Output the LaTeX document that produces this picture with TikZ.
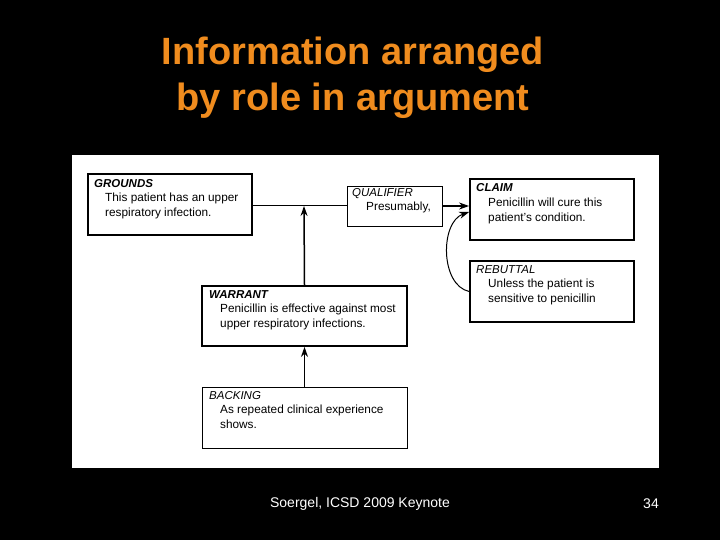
\documentclass[tikz,border=0pt]{standalone}
\usepackage{fontspec}
\setmainfont{Liberation Sans}
\usetikzlibrary{arrows.meta}
\definecolor{ttl}{RGB}{240,140,30}
\begin{document}
\begin{tikzpicture}[x=1pt,y=-1pt,
  box/.style={draw,line width=1.8pt},
  tbox/.style={draw,line width=1pt},
  lbl/.style={anchor=north west,font=\fontsize{11.5}{13}\selectfont\itshape,inner sep=0pt},
  txt/.style={anchor=north west,font=\fontsize{11.8}{15}\selectfont,align=left,inner sep=0pt},
  arr/.style={line width=1.5pt,-{Stealth[length=10pt,width=7pt]}}]
\fill[black] (0,0) rectangle (720,540);
\useasboundingbox (0,0) rectangle (720,540);
\fill[white] (72,155) rectangle (659,468);
\node[text=ttl,font=\fontsize{38}{46}\selectfont\bfseries,align=center] (title) at (353,78) {Information arranged\\by role in argument};
\node[text=white,font=\fontsize{14}{16}\selectfont] (foot) at (360,504) {Soergel, ICSD 2009 Keynote};
\node[text=white,font=\fontsize{14}{16}\selectfont] (num) at (651,504) {34};
% boxes
\node[box,inner sep=0pt,minimum width=164pt,minimum height=61pt] (G) at (170,204.5) {};
\node[lbl] (gl) at (94,179) {\textbf{GROUNDS}};
\node[txt] (gt) at (105,193) {This patient has an upper\\respiratory infection.};
\node[tbox,inner sep=0pt,minimum width=95pt,minimum height=40pt] (Q) at (394.5,207) {};
\node[lbl] (ql) at (352,188) {QUALIFIER};
\node[txt] (qt) at (366,202) {Presumably,};
\node[box,inner sep=0pt,minimum width=164pt,minimum height=61pt] (C) at (552,209.5) {};
\node[lbl] (cl) at (476,183) {\textbf{CLAIM}};
\node[txt] (ct) at (488,198) {Penicillin will cure this\\patient's condition.};
\node[box,inner sep=0pt,minimum width=164pt,minimum height=61pt] (R) at (552,291.5) {};
\node[lbl] (rl) at (476,265) {REBUTTAL};
\node[txt] (rt) at (488,279) {Unless the patient is\\sensitive to penicillin};
\node[box,inner sep=0pt,minimum width=205pt,minimum height=60pt] (W) at (304.5,316) {};
\node[lbl] (wl) at (209,290) {\textbf{WARRANT}};
\node[txt] (wt) at (220,304) {Penicillin is effective against most\\upper respiratory infections.};
\node[tbox,inner sep=0pt,minimum width=205pt,minimum height=61pt] (B) at (304.5,417.5) {};
\node[lbl] (bl) at (209,391) {BACKING};
\node[txt] (bt) at (220,405) {As repeated clinical experience\\shows.};
% connectors
\coordinate (j) at (304,206);
\draw[line width=1pt] (G.east |- j) -- (Q.west |- j);
\draw[arr] (W.north) -- (j);
\draw[arr] (Q.east |- j) -- (C.west |- j);
\draw[arr] (B.north) -- (W.south);
\draw[arr,line width=1pt] (R.west) .. controls (440,285) and (440,222) .. (C.west |- 0,212);
\end{tikzpicture}
\end{document}
